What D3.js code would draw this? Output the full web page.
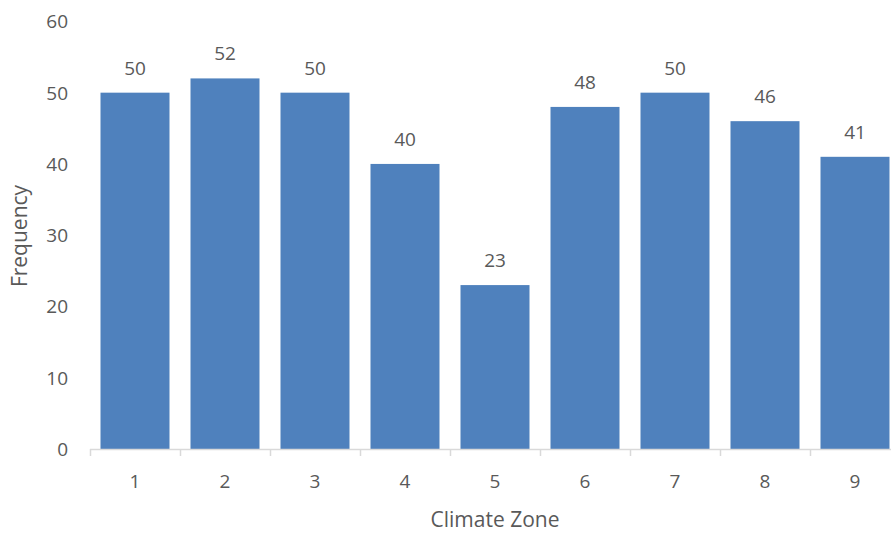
<!DOCTYPE html>
<html><head><meta charset="utf-8">
<script src="https://cdn.jsdelivr.net/npm/d3@7"></script>
<style>body{margin:0;background:#fff}svg{display:block}text{font-family:"Open Sans",sans-serif;fill:#595959}</style>
</head><body><svg id="c" width="891" height="534"></svg>
<script>
const categories = ["1","2","3","4","5","6","7","8","9"];
const values = [50,52,50,40,23,48,50,46,41];
const yTicks = [0,10,20,30,40,50,60];
const xTitle = "Climate Zone";
const yTitle = "Frequency";

const svg = d3.select("#c");
const x = d3.scaleBand().domain(categories).range([90,900]).paddingInner(21/90).paddingOuter(10.5/90);
const y = d3.scaleLinear().domain([0,60]).range([449,21.4]);

// bars
svg.append("g").selectAll("rect").data(values).join("rect")
  .attr("x",(d,i)=>x(categories[i])).attr("width",x.bandwidth())
  .attr("y",d=>y(d)).attr("height",d=>y(0)-y(d)).attr("fill","#4f81bd");

// axis line & ticks
const bounds = d3.range(categories.length+1).map(i=>90+i*90);
svg.append("line").attr("x1",90).attr("x2",900).attr("y1",y(0)+0.5).attr("y2",y(0)+0.5).attr("stroke","#d9d9d9").attr("stroke-width",1.5);
svg.append("g").selectAll("line").data(bounds).join("line")
  .attr("x1",d=>d+0.5).attr("x2",d=>d+0.5).attr("y1",y(0)).attr("y2",y(0)+7).attr("stroke","#d9d9d9").attr("stroke-width",1.5);

// x labels
svg.append("g").selectAll("text").data(categories).join("text")
  .attr("x",d=>x(d)+x.bandwidth()/2).attr("y",488).attr("text-anchor","middle").attr("font-size",19).text(d=>d);

// y labels
svg.append("g").selectAll("text").data(yTicks).join("text")
  .attr("x",68).attr("y",d=>y(d)+7).attr("text-anchor","end").attr("font-size",19).text(d=>d);

// data labels
svg.append("g").selectAll("text").data(values).join("text")
  .attr("x",(d,i)=>x(categories[i])+x.bandwidth()/2).attr("y",d=>y(d)-18).attr("text-anchor","middle").attr("font-size",19).attr("fill","#404040").text(d=>d);

// titles
svg.append("text").attr("x",495).attr("y",527).attr("text-anchor","middle").attr("font-size",21).text(xTitle);
svg.append("text").attr("transform","translate(27,236) rotate(-90)").attr("text-anchor","middle").attr("font-size",21).text(yTitle);
</script></body></html>
